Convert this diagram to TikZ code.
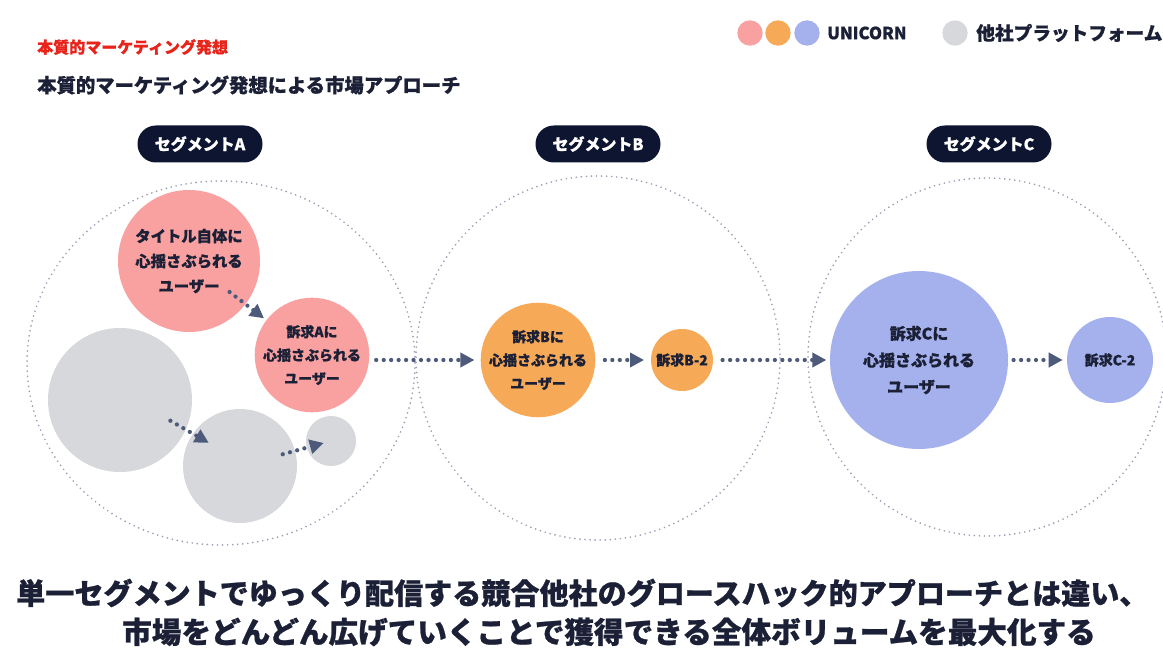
\documentclass[tikz,border=0pt]{standalone}
\usepackage{fontspec}
\setmainfont{Noto Sans CJK JP}[BoldFeatures={FakeBold=0.8}]
\usetikzlibrary{arrows.meta,calc}
\definecolor{pinkc}{HTML}{F8A1A0}
\definecolor{orangec}{HTML}{F6AA57}
\definecolor{bluec}{HTML}{A4B1EC}
\definecolor{grayc}{HTML}{D7D8DC}
\definecolor{navyc}{HTML}{0E1530}
\definecolor{arrowc}{HTML}{4D5A7A}
\definecolor{textc}{HTML}{1B2036}
\definecolor{titlered}{HTML}{E8231A}
\definecolor{ringc}{HTML}{9AA1B5}
\tikzset{
  bubble/.style={circle, inner sep=0pt, align=center, text=textc},
  ring/.style={draw=ringc, line width=1.4pt, dash pattern=on 0pt off 3.8pt, line cap=round},
  arr/.style={draw=arrowc, line width=3.2pt, dash pattern=on 0pt off 5.6pt, line cap=round,
    -{Triangle[length=10.5pt,width=10.5pt]}},
  pill/.style={fill=navyc, rounded corners=13.8pt, minimum width=93.75pt, minimum height=27.75pt,
    text=white, inner sep=0pt, font=\bfseries\fontsize{12}{14}\selectfont},
  lbl/.style={inner sep=0pt, anchor=west, text=textc},
  lgdot/.style={circle, inner sep=0pt, minimum size=19pt}
}
\begin{document}
\begin{tikzpicture}[x=0.75pt,y=-0.75pt]
\useasboundingbox (0,0) rectangle (1163,648);
\clip (0,0) rectangle (1163,648);
\fill[white] (0,0) rectangle (1163,648);

% titles
\node[lbl, text=titlered, font=\bfseries\fontsize{12}{14}\selectfont] (title) at (37,47) {本質的マーケティング発想};
\node[lbl, font=\bfseries\fontsize{14.5}{16}\selectfont] (subtitle) at (37,85) {本質的マーケティング発想による市場アプローチ};

% legend
\node[lgdot, fill=pinkc] (lg1) at (750,33) {};
\node[lgdot, fill=orangec] (lg2) at (778,33) {};
\node[lgdot, fill=bluec] (lg3) at (807,33) {};
\node[lbl, font=\bfseries\fontsize{12.5}{14}\selectfont] (lgu) at (827,33) {UNICORN};
\node[lgdot, fill=grayc] (lg4) at (955,33) {};
\node[lbl, font=\bfseries\fontsize{14}{16}\selectfont] (lgo) at (976,33) {他社プラットフォーム};

% segment rings
\draw[ring] (221,363) ellipse [x radius=194, y radius=182];
\draw[ring] (598,358) circle [radius=182];
\draw[ring] (987,357) circle [radius=179];

% pills
\node[pill] (segA) at (200,144) {セグメントA};
\node[pill] (segB) at (598,144) {セグメントB};
\node[pill] (segC) at (989,144) {セグメントC};

% segment A bubbles
\node[bubble, fill=pinkc, minimum size=106.5pt, font=\bfseries\fontsize{11.5}{18.75}\selectfont] (pA1) at (189,261) {タイトル自体に\\心揺さぶられる\\ユーザー};
\node[bubble, fill=pinkc, minimum size=85.5pt, font=\bfseries\fontsize{10.5}{17.5}\selectfont] (pA2) at (312,355) {訴求Aに\\心揺さぶられる\\ユーザー};
\node[bubble, fill=grayc, minimum size=108pt] (g1) at (120,400) {};
\node[bubble, fill=grayc, minimum size=85.5pt] (g2) at (240,466) {};
\node[bubble, fill=grayc, minimum size=37.5pt] (g3) at (331,441) {};

% segment B bubbles
\node[bubble, fill=orangec, minimum size=84pt, font=\bfseries\fontsize{10.5}{17.5}\selectfont] (oB1) at (538,360) {訴求Bに\\心揺さぶられる\\ユーザー};
\node[bubble, fill=orangec, minimum size=46.5pt, font=\bfseries\fontsize{10.5}{12}\selectfont] (oB2) at (682,360) {訴求B-2};

% segment C bubbles
\node[bubble, fill=bluec, minimum size=133.5pt, font=\bfseries\fontsize{12}{20}\selectfont] (bC1) at (919,360) {訴求Cに\\心揺さぶられる\\ユーザー};
\node[bubble, fill=bluec, minimum size=64.5pt, font=\bfseries\fontsize{10.5}{12}\selectfont] (bC2) at (1110,360) {訴求C-2};

% arrows
\draw[arr] ($(pA1)!0.33!(pA2)$) -- ($(pA1)!0.61!(pA2)$);
\draw[arr] ($(g1)!0.42!(g2)+(0,-7)$) -- ($(g1)!0.74!(g2)+(0,-6)$);
\draw[arr] ($(g2)!0.47!(g3)$) -- ($(g2)!0.92!(g3)$);
\draw[arr, shorten <=5pt, shorten >=4.5pt] (pA2.east |- oB1.west) -- (oB1.west);
\draw[arr, shorten <=7pt, shorten >=5pt] (oB1.east) -- (oB2.west);
\draw[arr, shorten <=7pt, shorten >=2.5pt] (oB2.east) -- (bC1.west);
\draw[arr, shorten <=4pt, shorten >=3pt] (bC1.east) -- (bC2.west);

% bottom message
\node[lbl, font=\bfseries\fontsize{21.8}{26}\selectfont] (msg1) at (16,593) {単一セグメントでゆっくり配信する競合他社のグロースハック的アプローチとは違い、};
\node[inner sep=0pt, text=textc, font=\bfseries\fontsize{22.2}{26}\selectfont] (msg2) at (609,632) {市場をどんどん広げていくことで獲得できる全体ボリュームを最大化する};
\end{tikzpicture}
\end{document}
